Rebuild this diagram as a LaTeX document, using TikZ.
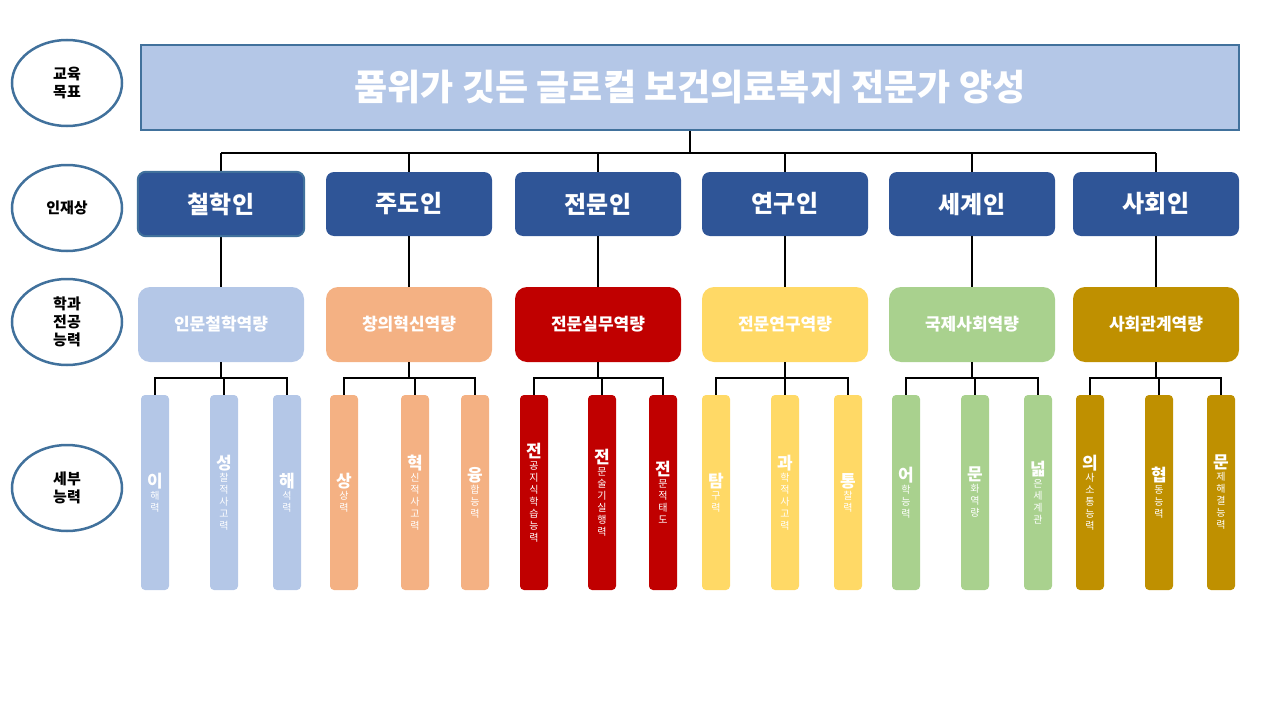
\documentclass[tikz,border=0pt]{standalone}
\usepackage{fontspec}
\setmainfont{Noto Sans CJK KR}
\usetikzlibrary{shapes.geometric}
\definecolor{bord}{HTML}{41719C}
\definecolor{navy}{HTML}{2F5597}
\definecolor{pblue}{HTML}{B4C7E7}
\definecolor{porange}{HTML}{F4B183}
\definecolor{pred}{HTML}{C00000}
\definecolor{pyellow}{HTML}{FFD966}
\definecolor{pgreen}{HTML}{A9D18E}
\definecolor{pgold}{HTML}{BF9000}
\tikzset{
 lab/.style={ellipse,draw=bord,line width=2.5pt,minimum width=110,minimum height=86,align=center,font=\fontsize{15}{18}\selectfont\bfseries},
 rolebox/.style={rounded corners=8,fill=navy,minimum width=166,minimum height=64,text=white,font=\fontsize{24}{28}\selectfont\bfseries},
 compbox/.style={rounded corners=12,minimum width=166,minimum height=75,text=white,font=\fontsize{17}{20}\selectfont\bfseries},
 colbox/.style={rounded corners=4,minimum width=28,minimum height=195,text=white,align=center},
 conn/.style={line width=1.5pt,black},
}
\newcommand{\vt}[2]{\fontsize{17}{#1}\selectfont\bfseries #2}
\begin{document}
\begin{tikzpicture}[x=1pt,y=-1pt]
\useasboundingbox (0,0) rectangle (1280,720);
\node[lab] (l1) at (67,83) {교육\\목표};
\node[lab] (l2) at (67,208) {인재상};
\node[lab] (l3) at (67,322) {학과\\전공\\능력};
\node[lab] (l4) at (67,488) {세부\\능력};
\node[draw=bord,line width=1.5pt,fill=pblue,minimum width=1098,minimum height=85,text=white,font=\fontsize{36}{40}\selectfont\bfseries] (t) at (690,87.5) {품위가 깃든 글로컬 보건의료복지 전문가 양성};
\coordinate (hb) at (690,153);
\draw[conn] (t.south) -- (hb);
\foreach \n/\x/\r/\c/\col/\a/\b/\cc/\ax/\bx/\cx/\sp in {
 1/221/철학인/인문철학역량/pblue/이\\해\\력/성\\찰\\적\\사\\고\\력/해\\석\\력/155/224/287/26,
 2/409/주도인/창의혁신역량/porange/상\\상\\력/혁\\신\\적\\사\\고\\력/융\\합\\능\\력/344/415/475/26,
 3/598/전문인/전문실무역량/pred/전\\공\\지\\식\\학\\습\\능\\력/전\\문\\술\\기\\실\\행\\력/전\\문\\적\\태\\도/534/602/663/22.5,
 4/785/연구인/전문연구역량/pyellow/탐\\구\\력/과\\학\\적\\사\\고\\력/통\\찰\\력/716/785/848/26,
 5/972/세계인/국제사회역량/pgreen/어\\학\\능\\력/문\\화\\역\\량/넓\\은\\세\\계\\관/906/975/1038/26,
 6/1156/사회인/사회관계역량/pgold/의\\사\\소\\통\\능\\력/협\\동\\능\\력/문\\제\\해\\결\\능\\력/1090/1159/1221/26}{
 \node[rolebox] (r\n) at (\x,204) {\r};
 \node[compbox,fill=\col] (c\n) at (\x,324.5) {\c};
 \node[colbox,fill=\col] (a\n) at (\ax,492.5) {\vt{\sp}{\a}};
 \node[colbox,fill=\col] (b\n) at (\bx,492.5) {\vt{\sp}{\b}};
 \node[colbox,fill=\col] (d\n) at (\cx,492.5) {\vt{\sp}{\cc}};
 \draw[conn] (r\n.north) -- (\x,153);
 \draw[conn] (r\n.south) -- (c\n.north);
 \coordinate (m\n) at (\x,378);
 \draw[conn] (c\n.south) -- (m\n);
 \draw[conn] (a\n.north) -- (\ax,378) -- (\cx,378) -- (d\n.north);
 \draw[conn] (b\n.north) -- (\bx,378);
}
\draw[conn] (221,153) -- (1156,153);
\draw[line width=2pt,draw=bord] (r1.north west) [rounded corners=8] rectangle (r1.south east);
\end{tikzpicture}
\end{document}
